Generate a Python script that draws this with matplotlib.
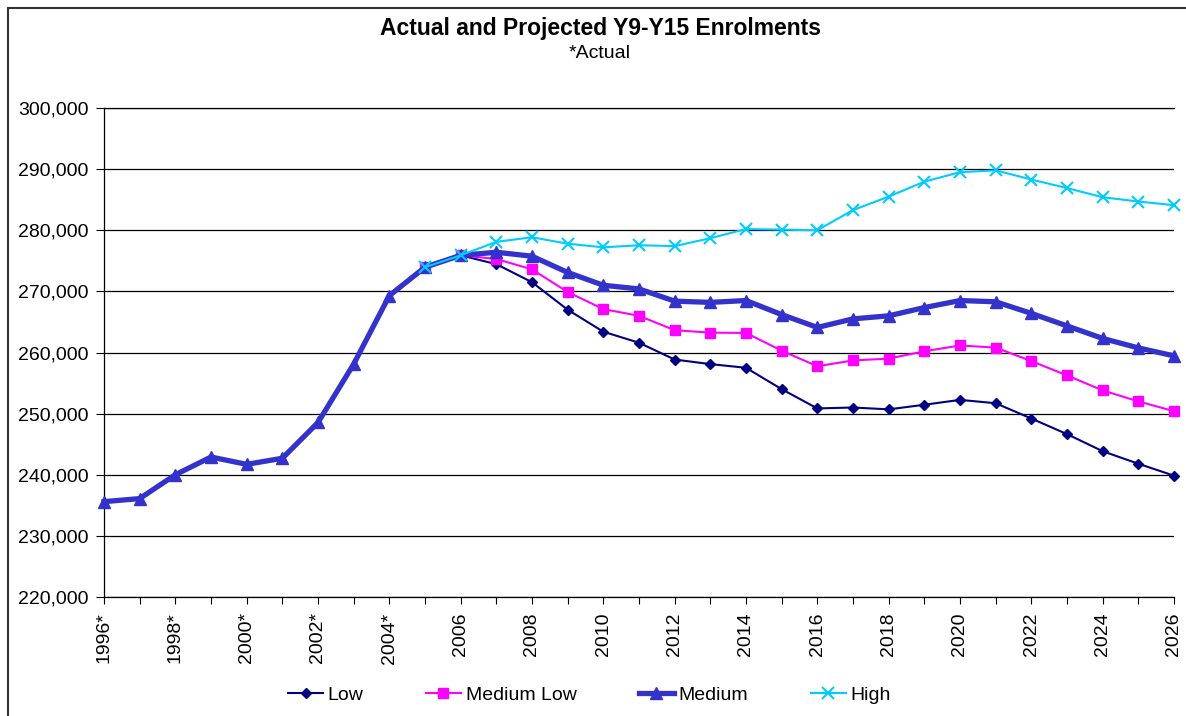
import matplotlib
matplotlib.use("Agg")
import matplotlib.pyplot as plt
from matplotlib.patches import Rectangle
from matplotlib.ticker import FuncFormatter, MultipleLocator

plt.rcParams['font.family'] = ['Liberation Sans', 'DejaVu Sans']

# Data
actual_years = list(range(1996, 2007))
actual = [235600, 236100, 240000, 242900, 241700, 242700, 248550, 258100,
          269300, 273950, 275900]

proj_years = list(range(2005, 2027))
low = [273950, 275900, 274450, 271500, 267000, 263400, 261600, 258850, 258100,
       257500, 254000, 250850, 251000, 250700, 251450, 252250, 251700, 249200,
       246650, 243850, 241800, 239850]
medium_low = [273950, 275900, 275300, 273600, 269900, 267100, 266000, 263650,
              263250, 263200, 260300, 257750, 258700, 259000, 260200, 261150,
              260800, 258600, 256250, 253800, 252000, 250400]
medium_proj = [276400, 275750, 273100, 271000, 270400, 268400, 268200, 268500,
               266200, 264100, 265500, 266000, 267350, 268500, 268300, 266400,
               264350, 262300, 260750, 259450]
high = [273950, 275900, 278100, 278850, 277800, 277200, 277550, 277400, 278700,
        280200, 280100, 280000, 283300, 285500, 287950, 289500, 289800, 288300,
        286900, 285400, 284700, 284100]

medium_years = actual_years + list(range(2007, 2027))
medium = actual + medium_proj

tick_years = list(range(1996, 2027))
tick_labels = [(str(y) + ('*' if y <= 2004 else '')) if y % 2 == 0 else ''
               for y in tick_years]

# Figure
fig = plt.figure(figsize=(11.86, 7.16), dpi=100)
ax = fig.add_axes([104 / 1186, 1 - 597 / 716, 1070 / 1186, 489 / 716])

ax.plot(proj_years, low, color='#000080', lw=1.5, marker='D', ms=5.5,
        label='Low', clip_on=False, zorder=3)
ax.plot(proj_years, medium_low, color='#FF00FF', lw=1.5, marker='s', ms=6.5,
        label='Medium Low', clip_on=False, zorder=3)
ax.plot(medium_years, medium, color='#3333CC', lw=3.8, marker='^', ms=9,
        label='Medium', clip_on=False, zorder=3)
ax.plot(proj_years, high, color='#00CCFF', lw=1.5, marker='x', ms=8, mew=1.5,
        label='High', clip_on=False, zorder=4)

ax.set_xlim(1996, 2026)
ax.set_ylim(220000, 300000)
ax.yaxis.set_major_locator(MultipleLocator(10000))
ax.yaxis.set_major_formatter(FuncFormatter(lambda v, p: f"{int(v):,}"))
ax.set_xticks(tick_years)
ax.set_xticklabels(tick_labels, rotation=90, va='top', ha='center')

ax.grid(axis='y', color='black', lw=0.9)
ax.set_axisbelow(True)
ax.spines['right'].set_visible(False)
for side in ['left', 'bottom', 'top']:
    ax.spines[side].set_color('black')
    ax.spines[side].set_linewidth(0.9)

ax.tick_params(axis='y', direction='out', length=6, pad=5, labelsize=14)
ax.tick_params(axis='x', direction='out', length=5, pad=6, labelsize=14)

fig.text(601 / 1186, 1 - 28 / 716, 'Actual and Projected Y9-Y15 Enrolments',
         ha='center', va='center', fontsize=16.5, fontweight='bold')
fig.text(600 / 1186, 1 - 53 / 716, '*Actual', ha='center', va='center',
         fontsize=14)

fig.legend(loc='center', bbox_to_anchor=(0.497, 1 - 695 / 716), ncol=4,
           frameon=False, fontsize=14, handlelength=1.8, handletextpad=0.25,
           columnspacing=3.2)

# Outer chart frame
fig.patches.append(Rectangle((8 / 1186, -0.1), 1.2, 1.1 - 8 / 716,
                             transform=fig.transFigure, fill=False,
                             ec='#333333', lw=1.5))

fig.savefig('out.png', dpi=100)
